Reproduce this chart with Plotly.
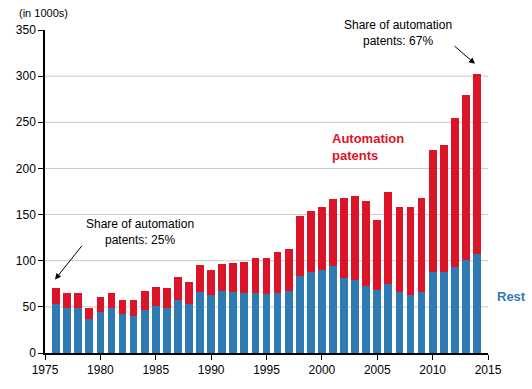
import plotly.graph_objects as go

years = list(range(1976, 2015))
rest = [52.6, 48.3, 49.0, 36.4, 44.7, 48.3, 41.8, 40.4, 46.9, 50.4,
        49.0, 56.9, 53.3, 65.7, 62.4, 66.7, 65.9, 64.5, 64.5, 63.8,
        64.5, 66.7, 83.2, 87.5, 89.6, 93.9, 81.1, 78.7, 72.2, 67.9,
        74.4, 65.8, 62.6, 65.8, 87.3, 87.3, 93.7, 100.9, 107.3]
automation = [17.4, 17.2, 16.5, 11.9, 16.3, 17.2, 15.8, 16.6, 20.4, 21.3,
              21.6, 25.5, 23.7, 30.0, 27.9, 30.1, 31.9, 34.4, 38.0, 38.7,
              45.2, 45.5, 65.2, 66.3, 68.5, 72.8, 86.4, 91.2, 92.3, 76.2,
              99.8, 92.3, 95.5, 101.9, 132.7, 138.0, 160.9, 178.4, 194.5]
x_ticks = [1975, 1980, 1985, 1990, 1995, 2000, 2005, 2010, 2015]
y_ticks = [0, 50, 100, 150, 200, 250, 300, 350]

BLUE = "#2e7bb4"
RED = "#dc1428"
FONT = "Arial, Liberation Sans, Helvetica, sans-serif"

W, H = 532, 389
L, R, T, B = 45, 44, 30, 34
pw, ph = W - L - R, H - T - B

def px(x):
    return (x - L) / pw

def py(y):
    return (H - B - y) / ph

fig = go.Figure()
fig.add_trace(go.Bar(x=years, y=rest, marker_color=BLUE, width=0.7,
                     marker_line_width=0, name="Rest"))
fig.add_trace(go.Bar(x=years, y=automation, marker_color=RED, width=0.7,
                     marker_line_width=0, name="Automation patents"))

# horizontal gridlines (none at 0 or at the top tick)
for v in y_ticks[1:-1]:
    fig.add_shape(type="line", xref="paper", yref="y", x0=0, x1=1, y0=v, y1=v,
                  line=dict(color="#c8c8c8", width=1), layer="below")

annotations = [
    dict(text="(in 1000s)", x=px(17), y=py(12.5), xanchor="left", yanchor="middle",
         font=dict(size=11, color="black")),
    dict(text="Share of automation<br>patents: 25%", x=px(140), y=py(233),
         xanchor="center", yanchor="middle", font=dict(size=12, color="black")),
    dict(text="Share of automation<br>patents: 67%", x=px(398), y=py(33),
         xanchor="center", yanchor="middle", font=dict(size=12, color="black")),
    dict(text="<b>Automation<br>patents</b>", x=px(330), y=py(148), xanchor="left",
         yanchor="middle", align="left", font=dict(size=13, color=RED)),
    dict(text="<b>Rest</b>", x=px(495), y=py(298), xanchor="left", yanchor="middle",
         font=dict(size=13, color=BLUE)),
]
for a in annotations:
    a.update(xref="paper", yref="paper", showarrow=False)

# arrows
annotations.append(dict(xref="paper", yref="paper", x=px(55), y=py(281), ax=28, ay=-35,
                        text="", showarrow=True, arrowhead=2, arrowsize=1.2,
                        arrowwidth=1, arrowcolor="black"))
annotations.append(dict(xref="paper", yref="paper", x=px(475), y=py(64), ax=-22, ay=-19,
                        text="", showarrow=True, arrowhead=2, arrowsize=1.2,
                        arrowwidth=1, arrowcolor="black"))

fig.update_layout(
    width=W, height=H,
    margin=dict(l=L, r=R, t=T, b=B, pad=0),
    barmode="stack",
    showlegend=False,
    paper_bgcolor="white",
    plot_bgcolor="white",
    font=dict(family=FONT, size=12, color="black"),
    annotations=annotations,
    xaxis=dict(range=[1975, 2015], tickvals=x_ticks, ticks="outside", ticklen=5,
               tickcolor="black", showline=True, linecolor="black", linewidth=1.5,
               showgrid=False, zeroline=False, tickfont=dict(size=12)),
    yaxis=dict(range=[0, 350], tickvals=y_ticks, ticks="outside", ticklen=5,
               tickcolor="black", showline=True, linecolor="black", linewidth=1.5,
               showgrid=False, zeroline=False, tickfont=dict(size=12)),
)

fig.write_html("out.html", config={"displayModeBar": False},
               post_script="document.body.style.margin='0px';document.body.style.padding='0px';")
